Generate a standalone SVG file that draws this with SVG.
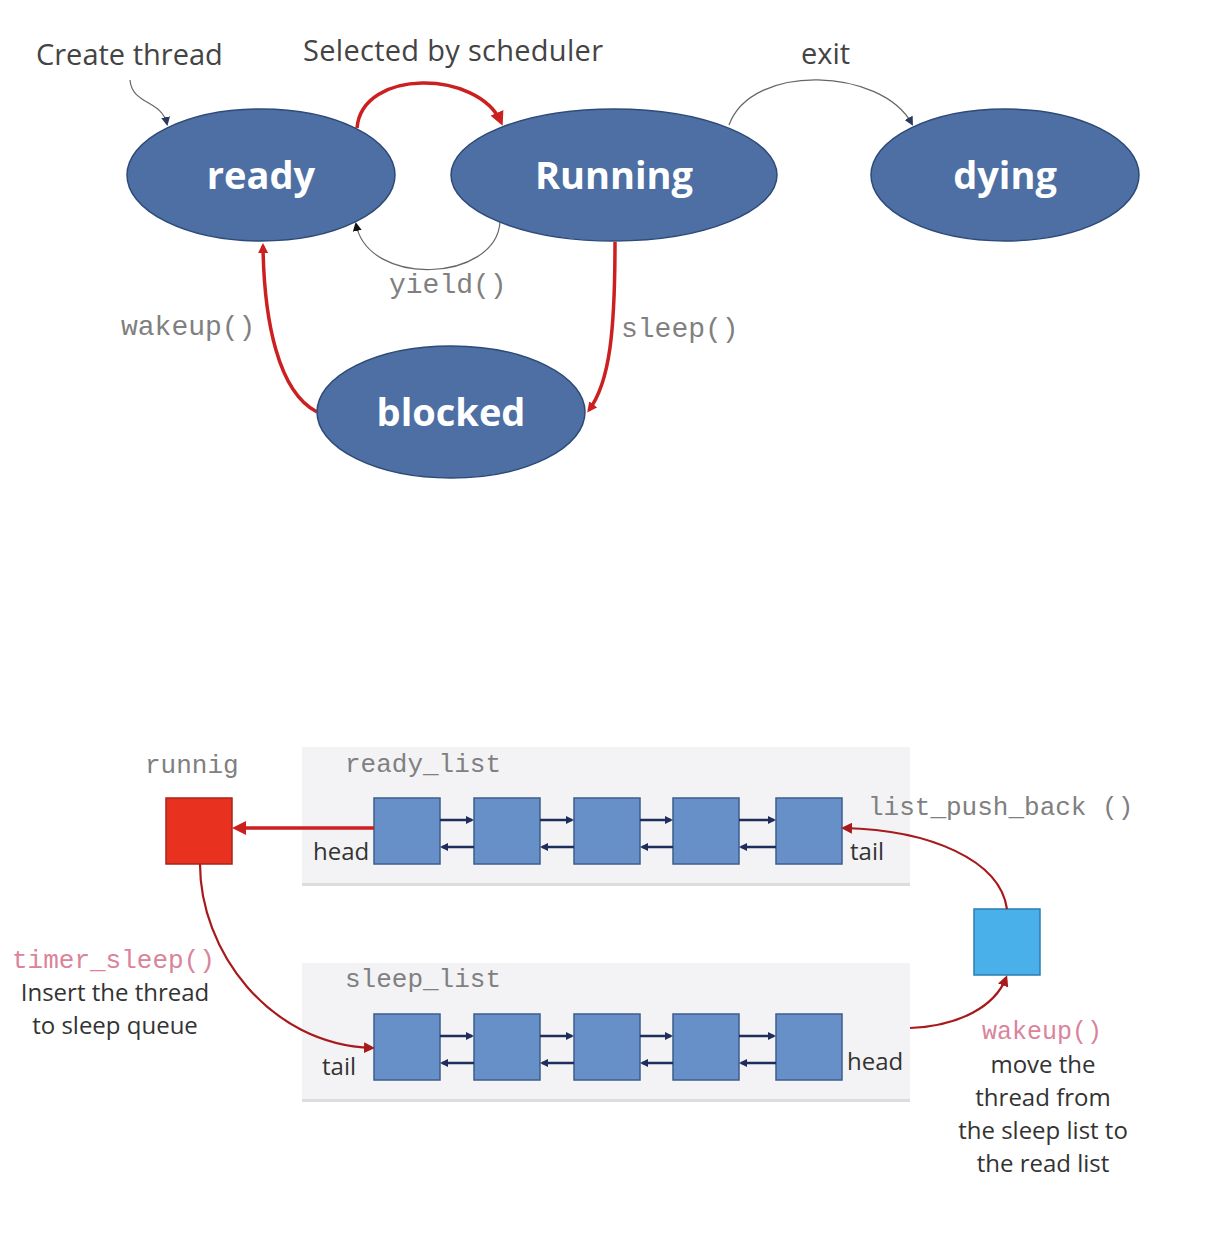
<svg xmlns="http://www.w3.org/2000/svg" width="1206" height="1254" viewBox="0 0 1206 1254">
<style>
.st{fill:#4d6fa3;stroke:#2e4a78;stroke-width:1.5}
.stt{font-family:"Open Sans","Noto Sans",sans-serif;font-weight:bold;font-size:38px;fill:#fff;text-anchor:middle}
.lbl{font-family:"Open Sans","Noto Sans",sans-serif;font-size:29px;fill:#444}
.sm{font-family:"Open Sans","Noto Sans",sans-serif;font-size:24px;fill:#333}
.mono{font-family:"Liberation Mono","Courier New",monospace;fill:#808080}
.pink{font-family:"Liberation Mono","Courier New",monospace;fill:#d9849a}
.panel{fill:#f3f3f5}
.nd{fill:#6790c8;stroke:#3e5d8c;stroke-width:1.5}
.red{fill:none;stroke:#cc1f1f;stroke-width:3.5}
.thin{fill:none;stroke:#666;stroke-width:1.2}
.dred{fill:none;stroke:#a8191c;stroke-width:2.2}
.lnk{stroke:#1f2d5c;stroke-width:2.5}
</style>
<defs>
<marker id="ar" markerWidth="10" markerHeight="10" refX="7" refY="5" orient="auto" markerUnits="userSpaceOnUse" viewBox="0 0 10 10"><path d="M0,0 L10,5 L0,10 z" fill="#cc1f1f"/></marker>
<marker id="ag" markerWidth="9" markerHeight="9" refX="7" refY="4.5" orient="auto" markerUnits="userSpaceOnUse" viewBox="0 0 9 9"><path d="M0,0 L9,4.5 L0,9 z" fill="#2a3a5e"/></marker>
<marker id="ab" markerWidth="9" markerHeight="9" refX="7" refY="4.5" orient="auto" markerUnits="userSpaceOnUse" viewBox="0 0 9 9"><path d="M0,0 L9,4.5 L0,9 z" fill="#111"/></marker>
<marker id="an" markerWidth="8" markerHeight="8" refX="6" refY="4" orient="auto" markerUnits="userSpaceOnUse" viewBox="0 0 8 8"><path d="M0,0 L8,4 L0,8 z" fill="#1f2d5c"/></marker>
<marker id="ad" markerWidth="11" markerHeight="11" refX="8" refY="5.5" orient="auto" markerUnits="userSpaceOnUse" viewBox="0 0 11 11"><path d="M0,0 L11,5.5 L0,11 z" fill="#a8191c"/></marker>
<marker id="ar2" markerWidth="14" markerHeight="14" refX="10" refY="7" orient="auto" markerUnits="userSpaceOnUse" viewBox="0 0 14 14"><path d="M0,0 L14,7 L0,14 z" fill="#cc1f1f"/></marker>
</defs>
<rect width="1206" height="1254" fill="#fff"/>

<g id="connectors">
<path class="thin" d="M130 80 C132 105 162 100 167 124" marker-end="url(#ag)"/>
<path class="red" d="M357 128 C362 68 478 70 501 122" marker-end="url(#ar2)"/>
<path class="thin" d="M500 222 C496 282 368 288 356 224" marker-end="url(#ab)"/>
<path class="thin" d="M729 125 C752 62 882 68 912 124" marker-end="url(#ag)"/>
<path class="red" d="M615 242 C615 330 610 382 589 410" marker-end="url(#ar)"/>
<path class="red" d="M317 412 C278 392 264 320 263 246" marker-end="url(#ar)"/>
</g>

<g id="ready"><ellipse class="st" cx="261" cy="175" rx="134" ry="66"/><text class="stt" x="261" y="189">ready</text></g>
<g id="running"><ellipse class="st" cx="614" cy="175" rx="163" ry="66"/><text class="stt" x="614" y="189">Running</text></g>
<g id="dying"><ellipse class="st" cx="1005" cy="175" rx="134" ry="66"/><text class="stt" x="1005" y="189">dying</text></g>
<g id="blocked"><ellipse class="st" cx="451" cy="412" rx="134" ry="66"/><text class="stt" x="451" y="426">blocked</text></g>

<g id="labels">
<text class="lbl" x="36" y="65">Create thread</text>
<text class="lbl" x="303" y="61" textLength="300">Selected by scheduler</text>
<text class="lbl" x="801" y="64">exit</text>
<text class="mono" x="389" y="293" font-size="28">yield()</text>
<text class="mono" x="121" y="335" font-size="28">wakeup()</text>
<text class="mono" x="621" y="337" font-size="28">sleep()</text>
</g>

<g id="ready_list">
<rect x="302" y="750" width="608" height="136" fill="#dcdcdc"/>
<rect class="panel" x="302" y="747" width="608" height="136"/>
<text class="mono" x="345" y="772" font-size="26">ready_list</text>
<rect class="nd" x="374" y="798" width="66" height="66"/>
<rect class="nd" x="474" y="798" width="66" height="66"/>
<rect class="nd" x="574" y="798" width="66" height="66"/>
<rect class="nd" x="673" y="798" width="66" height="66"/>
<rect class="nd" x="776" y="798" width="66" height="66"/>
<text class="sm" x="313" y="860">head</text>
<text class="sm" x="850" y="860">tail</text>
</g>

<g id="sleep_list">
<rect x="302" y="966" width="608" height="136" fill="#dcdcdc"/>
<rect class="panel" x="302" y="963" width="608" height="136"/>
<text class="mono" x="345" y="987" font-size="26">sleep_list</text>
<rect class="nd" x="374" y="1014" width="66" height="66"/>
<rect class="nd" x="474" y="1014" width="66" height="66"/>
<rect class="nd" x="574" y="1014" width="66" height="66"/>
<rect class="nd" x="673" y="1014" width="66" height="66"/>
<rect class="nd" x="776" y="1014" width="66" height="66"/>
<text class="sm" x="322" y="1075">tail</text>
<text class="sm" x="847" y="1070">head</text>
</g>

<g id="runnig">
<text class="mono" x="145" y="773" font-size="26">runnig</text>
<rect x="166" y="798" width="66" height="66" fill="#e8321f" stroke="#a82418" stroke-width="1.5"/>
</g>

<g id="waking">
<rect x="974" y="909" width="66" height="66" fill="#4ab0ea" stroke="#2b7fb0" stroke-width="1.5"/>
</g>

<g id="list_links">
<line class="lnk" x1="440" y1="820" x2="472" y2="820" marker-end="url(#an)"/>
<line class="lnk" x1="474" y1="847" x2="442" y2="847" marker-end="url(#an)"/>
<line class="lnk" x1="540" y1="820" x2="572" y2="820" marker-end="url(#an)"/>
<line class="lnk" x1="574" y1="847" x2="542" y2="847" marker-end="url(#an)"/>
<line class="lnk" x1="640" y1="820" x2="671" y2="820" marker-end="url(#an)"/>
<line class="lnk" x1="673" y1="847" x2="642" y2="847" marker-end="url(#an)"/>
<line class="lnk" x1="739" y1="820" x2="774" y2="820" marker-end="url(#an)"/>
<line class="lnk" x1="776" y1="847" x2="741" y2="847" marker-end="url(#an)"/>
<line class="lnk" x1="440" y1="1036" x2="472" y2="1036" marker-end="url(#an)"/>
<line class="lnk" x1="474" y1="1063" x2="442" y2="1063" marker-end="url(#an)"/>
<line class="lnk" x1="540" y1="1036" x2="572" y2="1036" marker-end="url(#an)"/>
<line class="lnk" x1="574" y1="1063" x2="542" y2="1063" marker-end="url(#an)"/>
<line class="lnk" x1="640" y1="1036" x2="671" y2="1036" marker-end="url(#an)"/>
<line class="lnk" x1="673" y1="1063" x2="642" y2="1063" marker-end="url(#an)"/>
<line class="lnk" x1="739" y1="1036" x2="774" y2="1036" marker-end="url(#an)"/>
<line class="lnk" x1="776" y1="1063" x2="741" y2="1063" marker-end="url(#an)"/>
</g>

<g id="list_connectors">
<line class="red" x1="374" y1="828" x2="236" y2="828" marker-end="url(#ar2)"/>
<path class="dred" d="M1007 909 C1000 860 930 830 844 828" marker-end="url(#ad)"/>
<path class="dred" d="M200 864 C200 950 268 1044 372 1048" marker-end="url(#ad)"/>
<path class="dred" d="M910 1028 C960 1026 995 1006 1006 978" marker-end="url(#ad)"/>
</g>

<g id="list_labels">
<text class="mono" x="868" y="815" font-size="26">list_push_back ()</text>
<text class="pink" x="12" y="968" font-size="26">timer_sleep()</text>
<text class="sm" x="115" y="1001" text-anchor="middle">Insert the thread</text>
<text class="sm" x="115" y="1034" text-anchor="middle">to sleep queue</text>
<text class="pink" x="1042" y="1039" font-size="25" text-anchor="middle">wakeup()</text>
<text class="sm" x="1043" y="1073" text-anchor="middle">move the</text>
<text class="sm" x="1043" y="1106" text-anchor="middle">thread from</text>
<text class="sm" x="1043" y="1139" text-anchor="middle">the sleep list to</text>
<text class="sm" x="1043" y="1172" text-anchor="middle">the read list</text>
</g>
</svg>
